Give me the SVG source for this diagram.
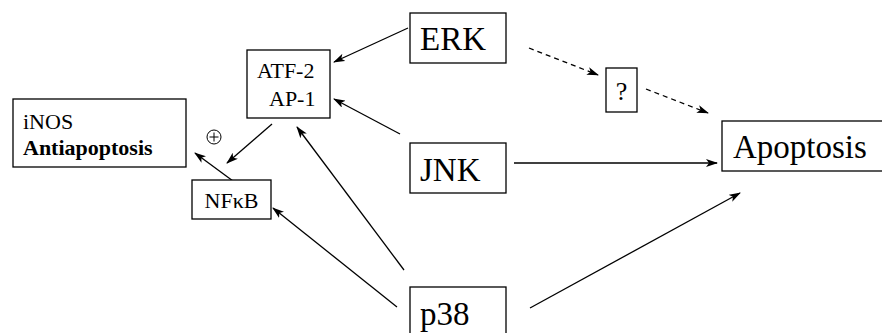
<svg xmlns="http://www.w3.org/2000/svg" width="882" height="333" viewBox="0 0 882 333">
<defs>
<marker id="ah" viewBox="0 0 12 8" refX="11" refY="4" markerWidth="12" markerHeight="8" markerUnits="userSpaceOnUse" orient="auto">
<path d="M0,0 L12,4 L0,8 L3,4 z" fill="#000"/>
</marker>
<style>
.box{fill:#fff;stroke:#000;stroke-width:1.3}
.c{stroke:#000;stroke-width:1.3;fill:none;marker-end:url(#ah)}
.d{stroke-dasharray:5,4}
text{font-family:Times New Roman, Liberation Serif, Tinos, Noto Serif, DejaVu Serif, serif;fill:#000}
</style>
</defs>
<rect width="882" height="333" fill="#fff"/>
<g id="connectors">
<line class="c" x1="408" y1="28" x2="334" y2="62"/>
<line class="c" x1="400" y1="134" x2="334" y2="99"/>
<line class="c" x1="404" y1="270" x2="297" y2="127"/>
<line class="c" x1="397" y1="307" x2="273" y2="208"/>
<line class="c" x1="272" y1="124" x2="227" y2="163"/>
<line class="c" x1="233" y1="181" x2="195" y2="153"/>
<line class="c d" x1="529" y1="48" x2="598" y2="75"/>
<line class="c d" x1="646" y1="89" x2="708" y2="113"/>
<line class="c" x1="514" y1="163" x2="717" y2="163"/>
<line class="c" x1="530" y1="308" x2="740" y2="193"/>
</g>
<g id="erk" font-size="33"><rect class="box" x="410" y="13" width="96" height="50"/><text x="420" y="50">ERK</text></g>
<g id="jnk" font-size="33"><rect class="box" x="410" y="143" width="96" height="50"/><text x="420" y="181">JNK</text></g>
<g id="p38" font-size="33"><rect class="box" x="410" y="287" width="96" height="60"/><text x="420" y="325">p38</text></g>
<g id="apoptosis" font-size="33"><rect class="box" x="722" y="121" width="170" height="50"/><text x="733" y="158">Apoptosis</text></g>
<g id="question" font-size="26"><rect class="box" x="606" y="68" width="31" height="44"/><text x="621.5" y="100" text-anchor="middle">?</text></g>
<g id="atf" font-size="22"><rect class="box" x="247" y="50" width="83" height="68"/><text x="257" y="78">ATF-2</text><text x="269" y="106">AP-1</text></g>
<g id="nfkb" font-size="22"><rect class="box" x="192" y="180" width="79" height="39"/><text x="231.5" y="208" text-anchor="middle">NFκB</text></g>
<g id="inos" font-size="22"><rect class="box" x="13" y="99" width="173" height="68"/><text x="23" y="129">iNOS</text><text x="23" y="155" font-weight="bold">Antiapoptosis</text></g>
<g id="plus"><circle cx="214" cy="137" r="7" fill="none" stroke="#000" stroke-width="1"/><path d="M209.5,137 H218.5 M214,132.5 V141.5" stroke="#000" stroke-width="1"/></g>
</svg>
